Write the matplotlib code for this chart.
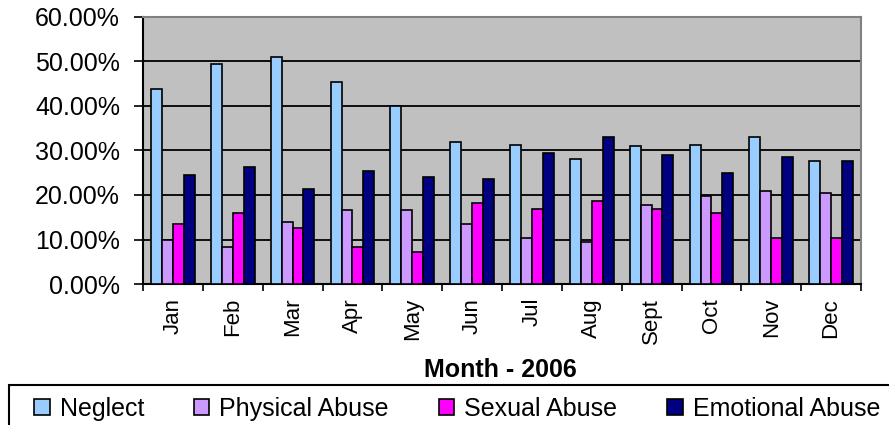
import numpy as np
import matplotlib.pyplot as plt
from matplotlib.ticker import FuncFormatter
from matplotlib.patches import Rectangle

plt.rcParams['font.family'] = ['Liberation Sans', 'DejaVu Sans']

# Data (percent of cases per month, 2006)
months = ['Jan', 'Feb', 'Mar', 'Apr', 'May', 'Jun', 'Jul', 'Aug', 'Sept', 'Oct', 'Nov', 'Dec']
neglect = [43.9, 49.5, 50.9, 45.4, 39.9, 31.8, 31.3, 28.1, 30.9, 31.3, 33.1, 27.7]
physical = [9.8, 8.4, 14.0, 16.7, 16.7, 13.4, 10.3, 9.4, 17.7, 19.8, 20.9, 20.4]
sexual = [13.4, 15.9, 12.5, 8.4, 7.1, 18.1, 16.8, 18.6, 16.8, 15.9, 10.3, 10.3]
emotional = [24.5, 26.3, 21.3, 25.4, 24.0, 23.6, 29.5, 33.1, 29.0, 25.0, 28.6, 27.7]

series = [('Neglect', neglect, '#99CCFF'),
          ('Physical Abuse', physical, '#CC99FF'),
          ('Sexual Abuse', sexual, '#FF00FF'),
          ('Emotional Abuse', emotional, '#000080')]

fig = plt.figure(figsize=(8.89, 4.25), dpi=100)
ax = fig.add_axes([143/889, 1-284/425, (861-143)/889, (284-17)/425])
ax.set_facecolor('#C0C0C0')

x = np.arange(len(months))
w = 1 / 5.5  # excel-ish gap width 150%
for i, (name, vals, col) in enumerate(series):
    ax.bar(x + (i - 1.5) * w, vals, width=w, color=col, edgecolor='black',
           linewidth=1.2, label=name, zorder=3)

ax.set_xlim(-0.5, len(months) - 0.5)
ax.set_ylim(0, 60)
ax.set_yticks(np.arange(0, 61, 10))
ax.yaxis.set_major_formatter(FuncFormatter(lambda v, p: f'{v:.2f}%'))
ax.grid(axis='y', color='black', linewidth=1.3, zorder=1)
ax.set_axisbelow(True)

# month labels at centres, tick marks at category boundaries
ax.set_xticks(x)
ax.set_xticklabels(months, rotation=90, ha='center', va='top', fontsize=16)
ax.set_xticks(np.arange(-0.5, len(months), 1), minor=True)
ax.tick_params(axis='x', which='major', length=0, pad=10)
ax.tick_params(axis='x', which='minor', length=5, width=1.2, color='black')
ax.tick_params(axis='y', length=6.5, width=1.2, labelsize=18, pad=10)

for s in ['top', 'right']:
    ax.spines[s].set_color('#808080')
    ax.spines[s].set_linewidth(1.5)
for s in ['left', 'bottom']:
    ax.spines[s].set_color('black')
    ax.spines[s].set_linewidth(1.5)

ax.set_xlabel('Month - 2006', fontsize=18, fontweight='bold')
ax.xaxis.set_label_coords(0.498, -(377-284)/267)
ax.xaxis.label.set_va('baseline')

# legend box runs off the right/bottom edge like the original
fig.patches.append(Rectangle((9/889, -0.1), 1.0, (425-385)/425 + 0.1,
                             transform=fig.transFigure, fill=False,
                             edgecolor='black', linewidth=1.5))
leg = fig.legend(loc='center left', bbox_to_anchor=(34/889, 1-409/425), ncol=4,
                 fontsize=18, frameon=False,
                 handlelength=0.62, handleheight=0.62, handletextpad=0.4,
                 columnspacing=2.0, borderpad=0, borderaxespad=0)

fig.savefig('out.png', dpi=100)
